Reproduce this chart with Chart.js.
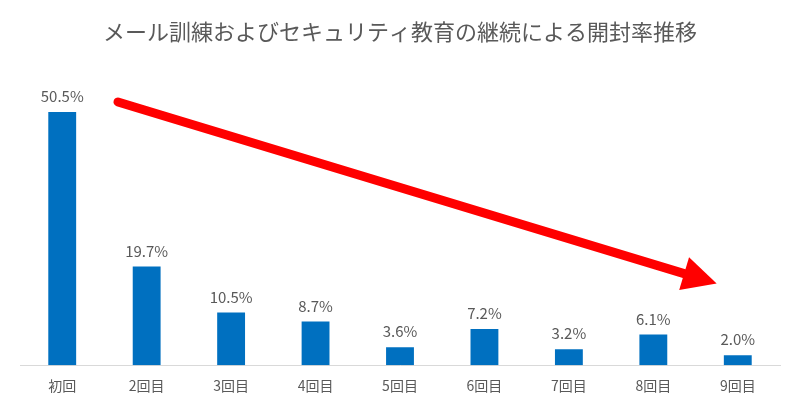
<!DOCTYPE html>
<html><head><meta charset="utf-8">
<script src="https://cdn.jsdelivr.net/npm/chart.js@4"></script>
<style>html,body{margin:0;background:#fff}#w{width:800px;height:414px}</style>
</head><body><div id="w"><canvas id="c"></canvas></div>
<script>
const categories = ["初回","2回目","3回目","4回目","5回目","6回目","7回目","8回目","9回目"];
const openRates = [50.5,19.7,10.5,8.7,3.6,7.2,3.2,6.1,2.0];
const titleText = "メール訓練およびセキュリティ教育の継続による開封率推移";
const FONT = "'Noto Sans CJK JP','Noto Sans',sans-serif";

const arrowPlugin = {
  id:'arrow',
  afterDatasetsDraw(chart){
    const {ctx, scales:{x,y}} = chart;
    const x1 = x.getPixelForValue(0.66), y1 = y.getPixelForValue(52.5);
    const x2 = x.getPixelForValue(7.75), y2 = y.getPixelForValue(16.3);
    const ang = Math.atan2(y2-y1, x2-x1);
    const head = 34, hw = 17;
    const bx = x2 - head*Math.cos(ang), by = y2 - head*Math.sin(ang);
    ctx.save();
    ctx.strokeStyle = '#ff0000'; ctx.fillStyle = '#ff0000';
    ctx.lineWidth = 9; ctx.lineCap = 'round';
    ctx.beginPath(); ctx.moveTo(x1,y1); ctx.lineTo(bx,by); ctx.stroke();
    ctx.beginPath(); ctx.moveTo(x2,y2);
    ctx.lineTo(bx + hw*Math.sin(ang), by - hw*Math.cos(ang));
    ctx.lineTo(bx - hw*Math.sin(ang), by + hw*Math.cos(ang));
    ctx.closePath(); ctx.fill();
    ctx.restore();
  }
};
const labelPlugin = {
  id:'lbl',
  afterDatasetsDraw(chart){
    const {ctx} = chart;
    const meta = chart.getDatasetMeta(0);
    ctx.save();
    ctx.font = "15px "+FONT; ctx.fillStyle = '#595959';
    ctx.textAlign='center'; ctx.textBaseline='bottom';
    meta.data.forEach((b,i)=>ctx.fillText(openRates[i].toFixed(1)+'%', b.x, b.y-8));
    ctx.restore();
  }
};
new Chart(document.getElementById('c'),{
  type:'bar',
  data:{labels:categories,datasets:[{data:openRates,backgroundColor:'#0070c0',categoryPercentage:1,barPercentage:0.33}]},
  options:{
    responsive:true,maintainAspectRatio:false,animation:false,
    layout:{padding:{left:20,right:20,top:0,bottom:8}},
    plugins:{legend:{display:false},tooltip:{enabled:false},
      title:{display:true,text:titleText,color:'#595959',font:{family:FONT,size:22,weight:'normal'},padding:{top:18,bottom:20}}},
    scales:{
      x:{grid:{display:false,drawTicks:false},border:{color:'#d9d9d9',width:1},
         ticks:{color:'#595959',font:{family:FONT,size:14},padding:12}},
      y:{display:false,min:0,max:60}
    }
  },
  plugins:[arrowPlugin,labelPlugin]
});
</script></body></html>
